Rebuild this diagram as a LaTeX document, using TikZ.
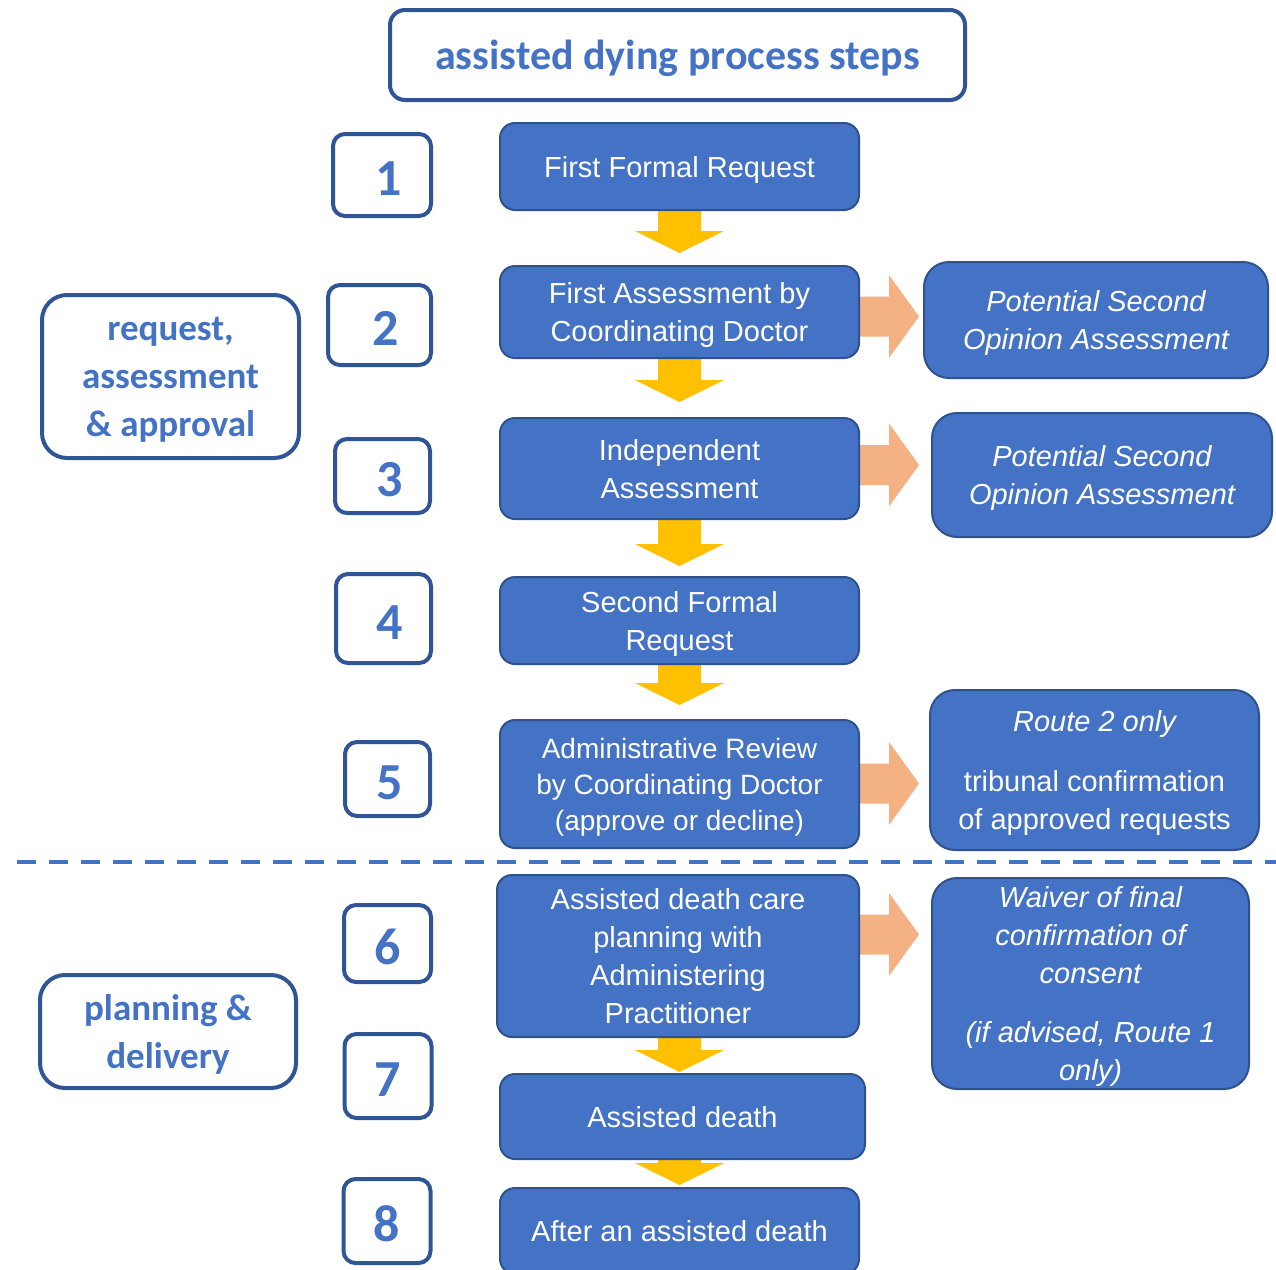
\documentclass[tikz,border=0pt]{standalone}
\usepackage{fontspec}
\setmainfont{Liberation Sans}
\newfontfamily\calibri{Carlito}
\usetikzlibrary{calc}
\definecolor{mainblue}{HTML}{4472C4}
\definecolor{mainedge}{HTML}{2F528F}
\definecolor{darkedge}{HTML}{2F5597}
\definecolor{ygold}{HTML}{FFC000}
\definecolor{orng}{HTML}{F4B183}
\pgfdeclarelayer{bg}
\pgfsetlayers{bg,main}
\tikzset{
  mainbox/.style={draw=mainedge, line width=2pt, fill=mainblue, rounded corners=15pt, text=white, align=center, font=\fontsize{29}{38}\selectfont, inner sep=0pt, text depth=0pt},
  sidebox/.style={mainbox, rounded corners=25pt, font=\fontsize{29}{38}\selectfont\itshape, text depth=-2pt},
  numbox/.style={draw=darkedge, line width=4pt, fill=white, rounded corners=12pt, text=mainblue, font=\fontsize{52}{60}\selectfont\calibri\bfseries, inner sep=0pt, text height=41pt, text depth=0pt},
  groupbox/.style={draw=darkedge, line width=4pt, fill=white, rounded corners=25pt, text=mainblue, align=center, font=\fontsize{37}{48}\selectfont\calibri\bfseries, inner sep=0pt, text depth=-1pt},
  titlebox/.style={draw=darkedge, line width=4pt, fill=white, rounded corners=15pt, text=mainblue, font=\fontsize{42}{50}\selectfont\calibri\bfseries, inner sep=0pt, text depth=0pt},
  yarrowfill/.style={fill=ygold},
  oarrowfill/.style={fill=orng},
  dashline/.style={draw=mainblue, line width=4pt, dash pattern=on 19pt off 13pt}
}
\newcommand\yarrow[3]{%
  \path ($(ax |- #1.south)+(0,-3)$) coordinate (ys) (ax |- #2.north) coordinate (ye);
  \fill[yarrowfill] ($(ys)+(-21.5,0)$) -- ($(ye)+(-21.5,-#3-22)$) -- ($(ye)+(-44.5,-#3-22)$) -- ($(ye)+(0,-#3)$) -- ($(ye)+(44.5,-#3-22)$) -- ($(ye)+(21.5,-#3-22)$) -- ($(ys)+(21.5,0)$) -- cycle;}
\newcommand\oarrow[3]{%
  \coordinate (oy) at (0,#3);
  \path ($(#1.east |- oy)+(-3,0)$) coordinate (os);
  \fill[oarrowfill] ($(os)+(0,-20)$) -- ($(os)+(32,-20)$) -- ($(os)+(32,-41.5)$) -- ($(os)+(62,0)$) -- ($(os)+(32,41.5)$) -- ($(os)+(32,20)$) -- ($(os)+(0,20)$) -- cycle;}
\begin{document}
\begin{tikzpicture}[x=1pt,y=-1pt]
\useasboundingbox (0,0) rectangle (1276,1269);
\coordinate (ax) at (679.5,0);

% title
\node[titlebox, minimum width=575, minimum height=90] (title) at (677.5,55) {assisted dying process steps};

% number boxes
\node[numbox, minimum width=98, minimum height=82] (n1) at (382,175) {\hspace*{13pt}1};
\node[numbox, minimum width=103, minimum height=80] (n2) at (379.5,325) {\hspace*{13pt}2};
\node[numbox, minimum width=95, minimum height=74] (n3) at (382.5,476) {\hspace*{15pt}3};
\node[numbox, minimum width=95, minimum height=89] (n4) at (383.5,618.5) {\hspace*{13pt}4};
\node[numbox, minimum width=85, minimum height=74] (n5) at (387.5,779) {\hspace*{4pt}5};
\node[numbox, minimum width=87, minimum height=77] (n6) at (387.5,943.5) {6};
\node[numbox, minimum width=87, minimum height=84] (n7) at (388,1076) {7};
\node[numbox, minimum width=87, minimum height=84] (n8) at (387,1221) {8};

% group boxes
\node[groupbox, minimum width=257, minimum height=163] (g1) at (170.5,376.5) {request,\\assessment\\\&\ approval};
\node[groupbox, minimum width=256, minimum height=113] (g2) at (168,1031.5) {planning \&\\delivery};

% main boxes
\node[mainbox, minimum width=359, minimum height=87] (b1) at (679.5,166.5) {First Formal Request};
\node[mainbox, minimum width=359, minimum height=92] (b2) at (679.5,312) {First Assessment by\\Coordinating Doctor};
\node[mainbox, minimum width=359, minimum height=101] (b3) at (679.5,468.5) {Independent\\Assessment};
\node[mainbox, minimum width=359, minimum height=87] (b4) at (679.5,620.5) {Second Formal\\Request};
\node[mainbox, minimum width=359, minimum height=128, font=\fontsize{28}{36}\selectfont] (b5) at (679.5,784) {Administrative Review\\by Coordinating Doctor\\(approve or decline)};
\node[mainbox, minimum width=362, minimum height=162] (b6) at (678,956) {Assisted death care\\planning with\\Administering\\Practitioner};
\node[mainbox, minimum width=365, minimum height=85] (b7) at (682.5,1116.5) {Assisted death};
\node[mainbox, minimum width=359, minimum height=86] (b8) at (679.5,1231) {After an assisted death};

% side boxes
\node[sidebox, minimum width=344, minimum height=116] (s2) at (1096,320) {Potential Second\\Opinion Assessment};
\node[sidebox, minimum width=340, minimum height=124] (s3) at (1102,475) {Potential Second\\Opinion Assessment};
\node[sidebox, minimum width=329, minimum height=160] (s5) at (1094.5,770) {Route 2 only\\[22pt]\upshape tribunal confirmation\\\upshape of approved requests};
\node[sidebox, minimum width=317, minimum height=211] (s6) at (1090.5,983.5) {Waiver of final\\confirmation of\\consent\\[21pt](if advised, Route 1\\only)};

% connectors
\begin{pgfonlayer}{bg}
\yarrow{b1}{b2}{12}
\yarrow{b2}{b3}{15}
\yarrow{b3}{b4}{10}
\yarrow{b4}{b5}{14}
\yarrow{b6}{b7}{1}
\yarrow{b7}{b8}{2}
\oarrow{b2}{s2}{316.5}
\oarrow{b3}{s3}{465}
\oarrow{b5}{s5}{783.5}
\oarrow{b6}{s6}{934.5}
\end{pgfonlayer}

% divider
\coordinate (d1) at (17,862);
\coordinate (d2) at (1276,862);
\draw[dashline] (d1) -- (d2);
\end{tikzpicture}
\end{document}
